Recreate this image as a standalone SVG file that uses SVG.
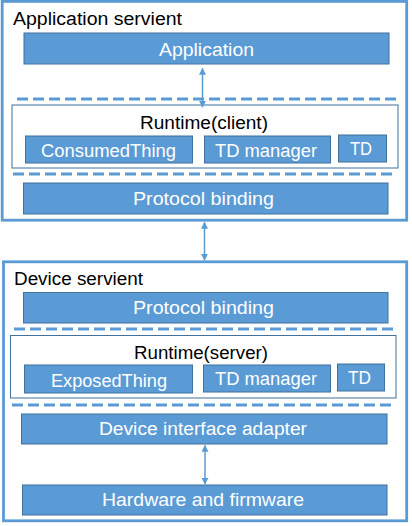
<svg xmlns="http://www.w3.org/2000/svg" width="412" height="526" viewBox="0 0 412 526">
<defs>
<style>
.outer{fill:#fff;stroke:#5B9BD5;stroke-width:2.8}
.rt{fill:#fff;stroke:#41719C;stroke-width:1}
.blk{fill:#5B9BD5;stroke:#41719C;stroke-width:1}
.dash{stroke:#5B9BD5;stroke-width:3;stroke-dasharray:11 5;fill:none}
.lbl{font-family:"Liberation Sans",Arial,sans-serif;font-size:18px;fill:#000}
.wt{font-family:"Liberation Sans",Arial,sans-serif;font-size:18px;fill:#fff;text-anchor:middle}
.con{stroke:#5B9BD5;stroke-width:1.5;fill:none;marker-start:url(#ah);marker-end:url(#ah)}
</style>
<marker id="ah" viewBox="0 0 10 10" refX="9" refY="5" markerWidth="7" markerHeight="7" markerUnits="userSpaceOnUse" orient="auto-start-reverse">
<path d="M0,0 L10,5 L0,10 Z" fill="#5B9BD5"/>
</marker>
</defs>

<g id="app-servient">
<rect class="outer" x="2.2" y="1.4" width="404.5" height="218.8"/>
<text class="lbl" x="13" y="25" textLength="169" lengthAdjust="spacingAndGlyphs">Application servient</text>
</g>
<g id="application">
<rect class="blk" x="24" y="33" width="365" height="31"/>
<text class="wt" x="206.5" y="56" textLength="95" lengthAdjust="spacingAndGlyphs">Application</text>
</g>
<line class="dash" x1="17" y1="99" x2="397" y2="99"/>
<g id="runtime-client">
<rect class="rt" x="12" y="105" width="386" height="63"/>
<text class="lbl" x="204" y="129" text-anchor="middle" textLength="128" lengthAdjust="spacingAndGlyphs">Runtime(client)</text>
</g>
<g id="consumedthing">
<rect class="blk" x="25.5" y="136" width="167" height="27"/>
<text class="wt" x="108.5" y="156.5" textLength="135" lengthAdjust="spacingAndGlyphs">ConsumedThing</text>
</g>
<g id="td-manager-client">
<rect class="blk" x="204.5" y="136" width="126" height="27"/>
<text class="wt" x="266" y="156.5" textLength="102" lengthAdjust="spacingAndGlyphs">TD manager</text>
</g>
<g id="td-client">
<rect class="blk" x="338.5" y="135" width="48" height="27"/>
<text class="wt" x="361" y="155" textLength="22" lengthAdjust="spacingAndGlyphs">TD</text>
</g>
<line class="dash" x1="13" y1="174" x2="393" y2="174"/>
<g id="protocol-binding-client">
<rect class="blk" x="23.5" y="183" width="364.5" height="31"/>
<text class="wt" x="203.5" y="205" textLength="141" lengthAdjust="spacingAndGlyphs">Protocol binding</text>
</g>

<g id="device-servient">
<rect class="outer" x="3.5" y="261.8" width="403.2" height="259"/>
<text class="lbl" x="14" y="285" textLength="129" lengthAdjust="spacingAndGlyphs">Device servient</text>
</g>
<g id="protocol-binding-server">
<rect class="blk" x="23.5" y="292.5" width="364.5" height="30.5"/>
<text class="wt" x="203.5" y="314" textLength="141" lengthAdjust="spacingAndGlyphs">Protocol binding</text>
</g>
<line class="dash" x1="14" y1="329" x2="393" y2="329"/>
<g id="runtime-server">
<rect class="rt" x="10.5" y="335.5" width="385.5" height="62.5"/>
<text class="lbl" x="201" y="359" text-anchor="middle" textLength="134" lengthAdjust="spacingAndGlyphs">Runtime(server)</text>
</g>
<g id="exposedthing">
<rect class="blk" x="24.5" y="365" width="168" height="28"/>
<text class="wt" x="109" y="386.5" textLength="116" lengthAdjust="spacingAndGlyphs">ExposedThing</text>
</g>
<g id="td-manager-server">
<rect class="blk" x="203.5" y="365" width="127" height="27"/>
<text class="wt" x="266" y="385" textLength="102" lengthAdjust="spacingAndGlyphs">TD manager</text>
</g>
<g id="td-server">
<rect class="blk" x="337.5" y="364" width="47" height="27"/>
<text class="wt" x="359.5" y="384" textLength="23" lengthAdjust="spacingAndGlyphs">TD</text>
</g>
<line class="dash" x1="12" y1="405" x2="392" y2="405"/>
<g id="device-interface-adapter">
<rect class="blk" x="21.5" y="414" width="365.5" height="30"/>
<text class="wt" x="203" y="435" textLength="208" lengthAdjust="spacingAndGlyphs">Device interface adapter</text>
</g>
<g id="hardware-firmware">
<rect class="blk" x="22.5" y="485" width="364.5" height="30"/>
<text class="wt" x="203" y="506" textLength="202" lengthAdjust="spacingAndGlyphs">Hardware and firmware</text>
</g>

<g id="connectors">
<line class="con" x1="202.5" y1="68.5" x2="202.5" y2="107"/>
<line class="con" x1="204.5" y1="222.5" x2="204.5" y2="260"/>
<line class="con" x1="205" y1="445.5" x2="205" y2="484"/>
</g>
</svg>
